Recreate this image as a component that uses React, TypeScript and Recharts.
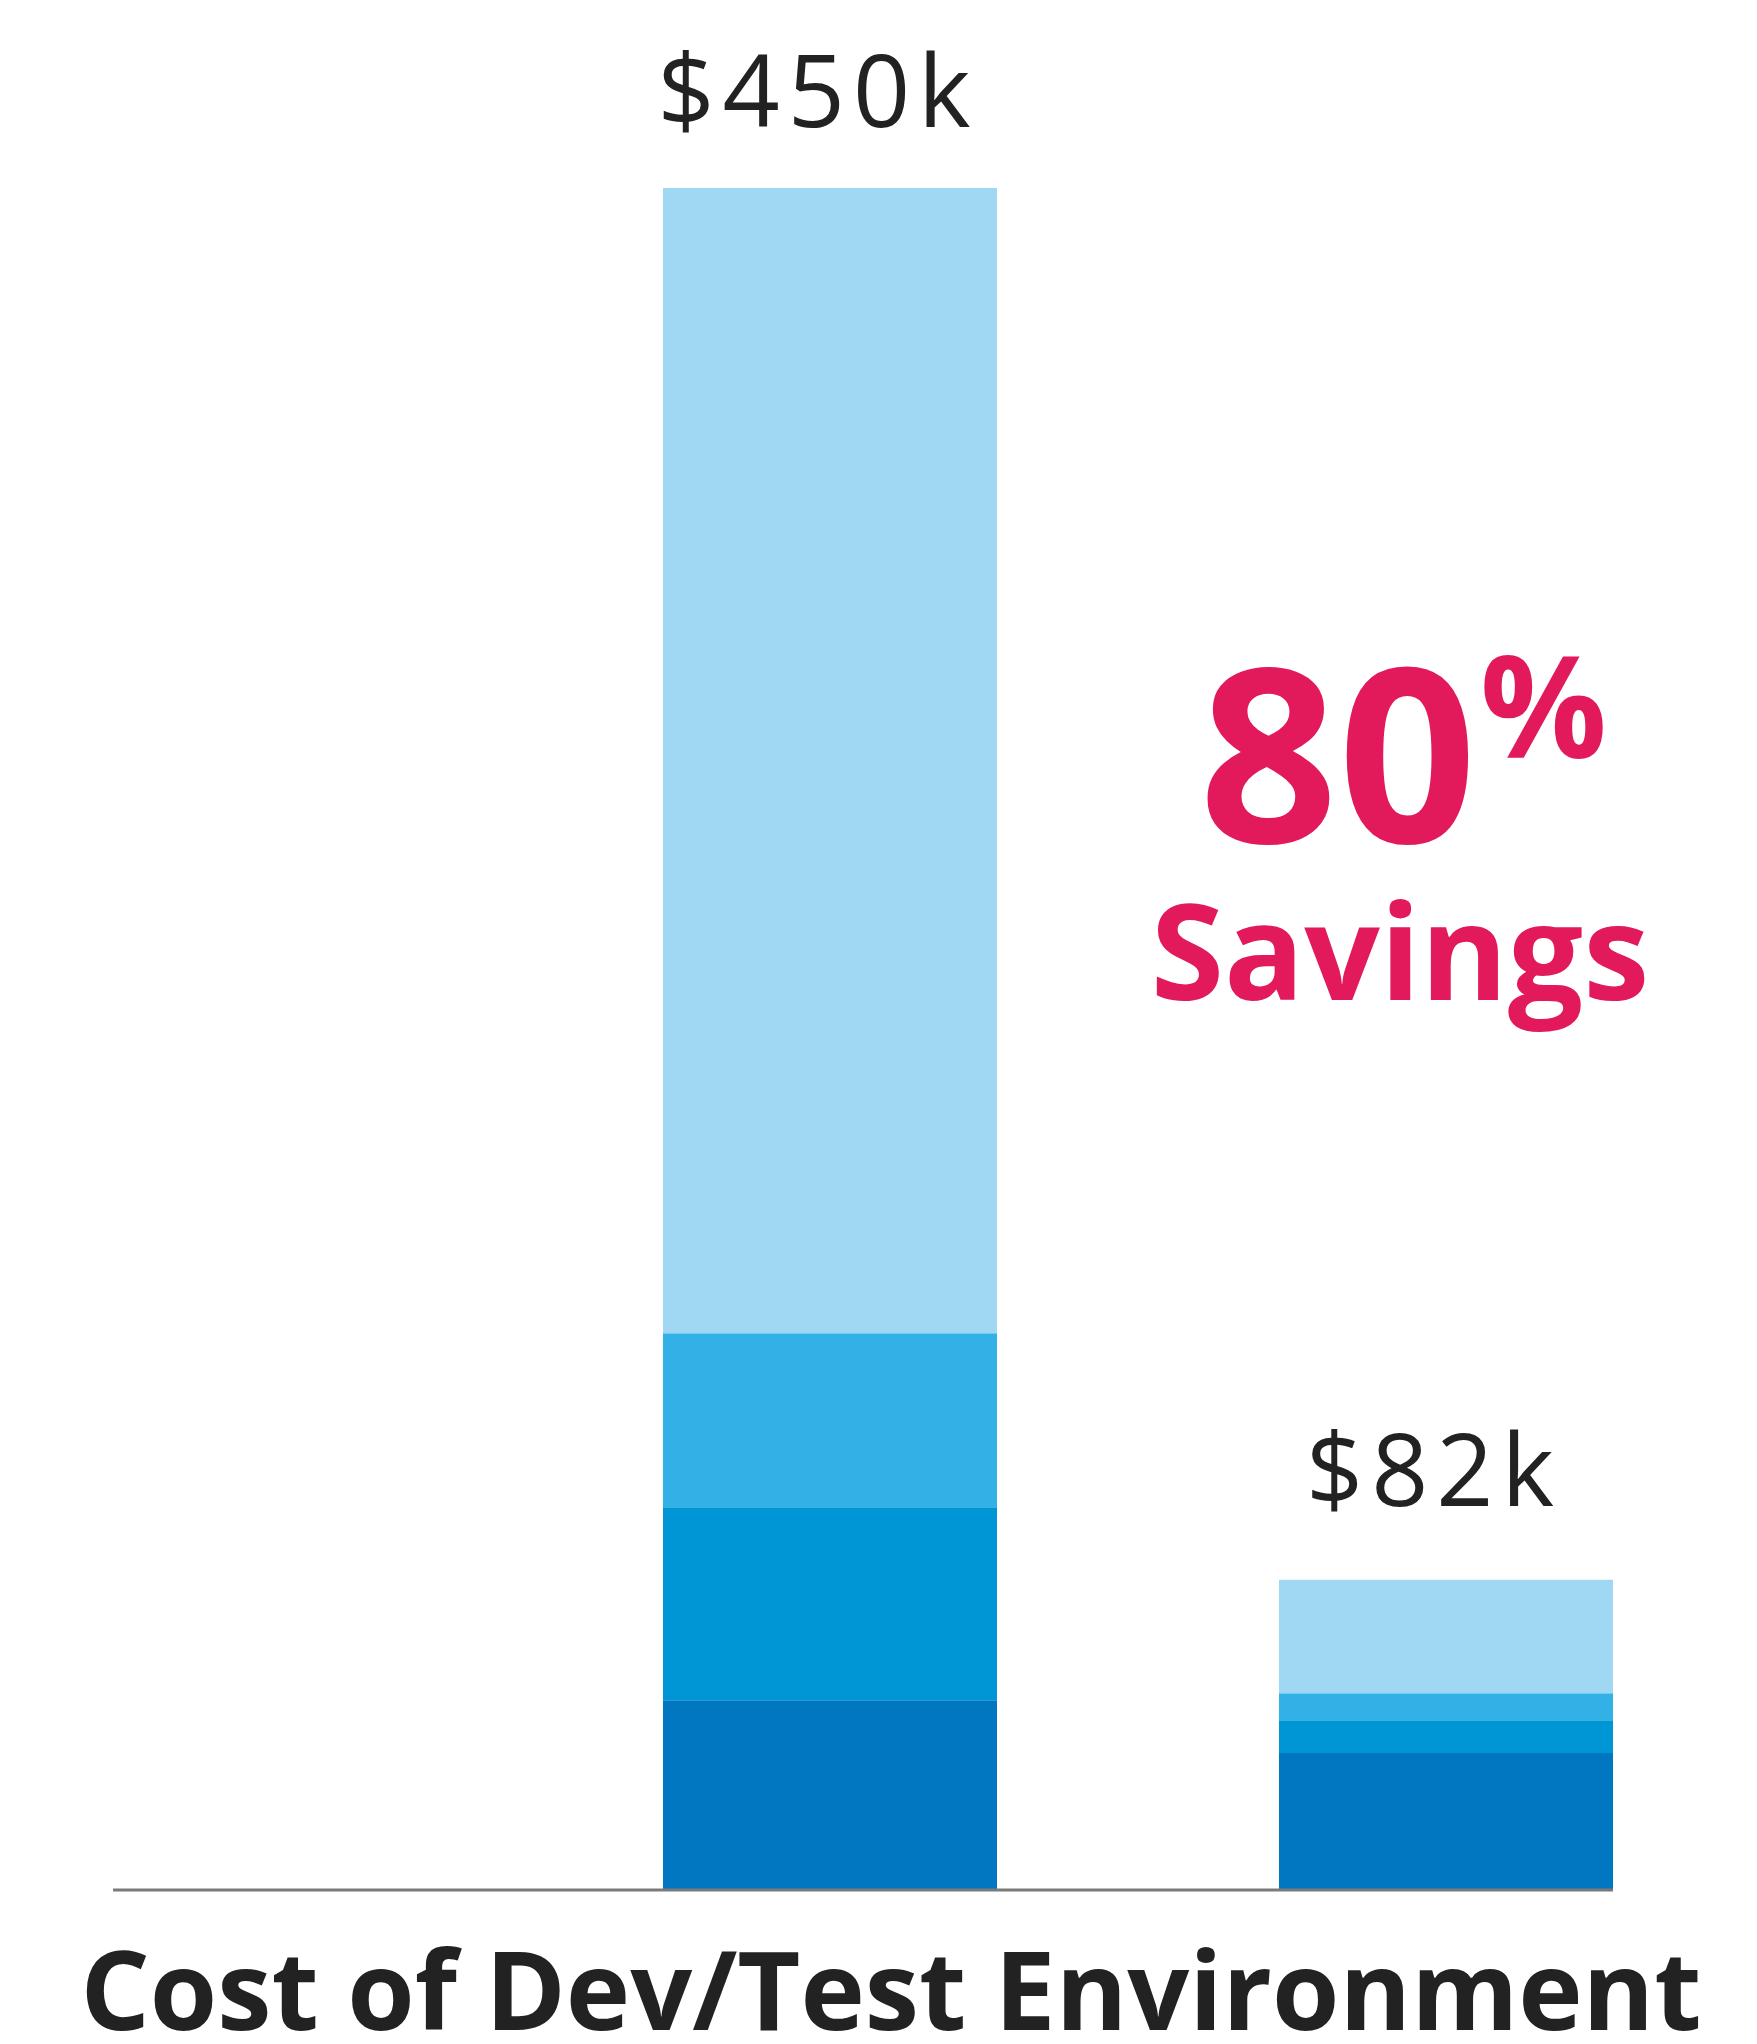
import { Bar, BarChart, LabelList, ReferenceLine, XAxis, YAxis } from "recharts";

const categories = ["Before", "After"];
const baseCost = [50.2, 36.2];
const midCost = [51, 8.7];
const upperCost = [46, 7.1];
const topCost = [302.8, 30];
const totalLabels = ["$450k", "$82k"];

const data = categories.map((name, i) => ({
  name,
  base: baseCost[i],
  mid: midCost[i],
  upper: upperCost[i],
  top: topCost[i],
  total: totalLabels[i],
}));

const PINK = "#e2195b";
const FONT = "'Open Sans', 'Noto Sans', sans-serif";
const labelGap = [61, 74];

// total sits a bit left of the bar centre in the original artwork
const renderTotal = (props: any) => {
  const { x, y, width, value, index } = props;
  return (
    <text
      x={x + width / 2 - 12}
      y={y - labelGap[index]}
      textAnchor="middle"
      fill="#222"
      fontFamily={FONT}
      fontSize={100}
      letterSpacing={8}
    >
      {value}
    </text>
  );
};

export default function App() {
  return (
    <div style={{ position: "absolute", left: 0, top: 0, width: 1757, height: 2044, background: "#fff" }}>
      <BarChart
        width={1757}
        height={2044}
        data={data}
        margin={{ top: 188, right: 144, bottom: 154, left: 113 }}
        barSize={334}
      >
        <XAxis dataKey="name" hide padding={{ left: 409, right: -141 }} />
        <YAxis hide domain={[0, 450]} />
        <Bar dataKey="base" stackId="a" fill="#0077c0" isAnimationActive={false} />
        <Bar dataKey="mid" stackId="a" fill="#0096d6" isAnimationActive={false} />
        <Bar dataKey="upper" stackId="a" fill="#32b1e6" isAnimationActive={false} />
        <Bar dataKey="top" stackId="a" fill="#a0d7f2" isAnimationActive={false}>
          <LabelList dataKey="total" content={renderTotal} />
        </Bar>
        <ReferenceLine y={0} stroke="#7a7a7a" strokeWidth={3} />
        <text x={1199} y={843} fill={PINK} fontFamily={FONT} fontWeight={700} fontSize={243}>
          80
          <tspan fontSize={141} dx={3} dy={-85}>%</tspan>
        </text>
        <text x={1400} y={1000} fill={PINK} fontFamily={FONT} fontWeight={700} fontSize={133} textAnchor="middle">
          Savings
        </text>
        <text x={891} y={2030} fill="#222" fontFamily={FONT} fontWeight={700} fontSize={109} textAnchor="middle">
          Cost of Dev/Test Environment
        </text>
      </BarChart>
    </div>
  );
}
